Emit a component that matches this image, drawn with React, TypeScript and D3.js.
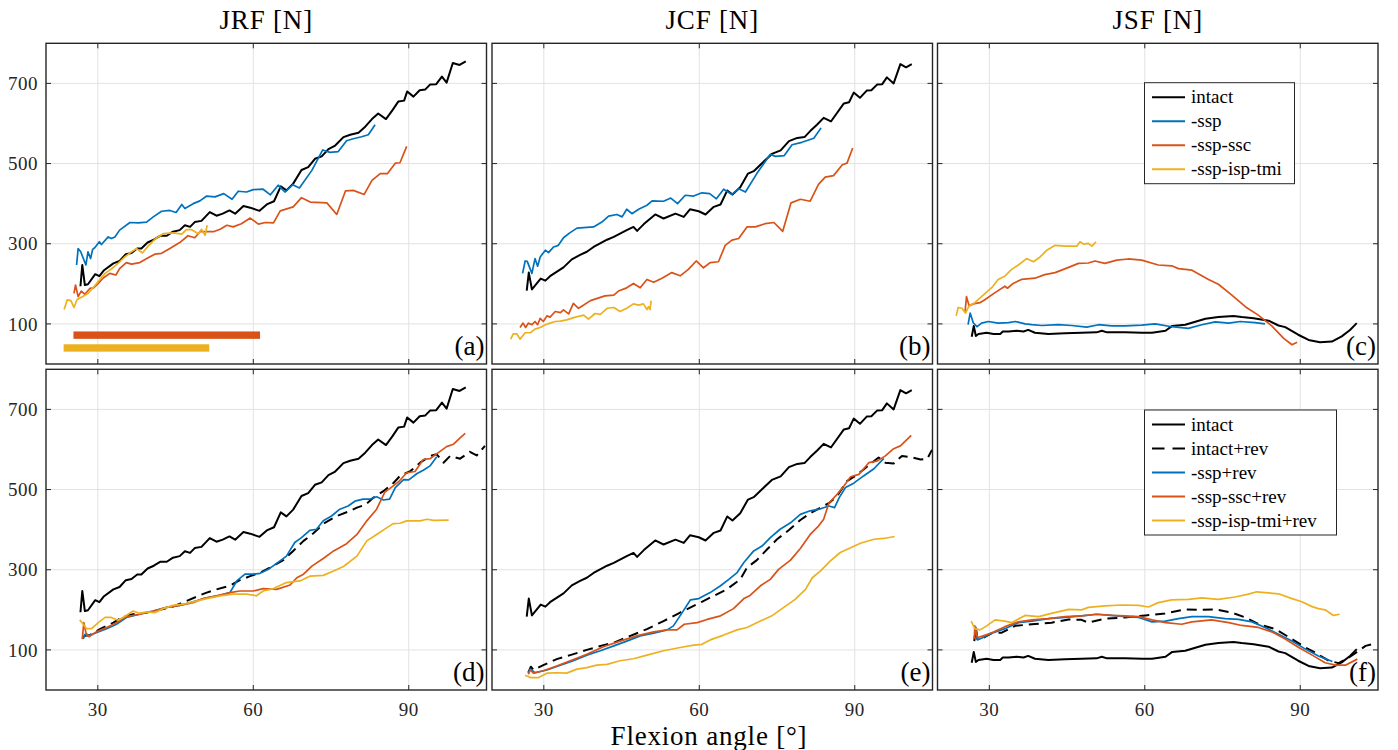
import React from 'react';
import * as d3 from 'd3';

type Pt = [number, number];

// ---- data (flexion angle [deg], force [N]) ----
const columnTitles = ['JRF [N]', 'JCF [N]', 'JSF [N]'];
const panelLabels = ['(a)', '(b)', '(c)', '(d)', '(e)', '(f)'];
const xTicks = [30, 60, 90];
const yTicks = [100, 300, 500, 700];
const legendTop = ['intact', '-ssp', '-ssp-ssc', '-ssp-isp-tmi'];
const legendBottom = ['intact', 'intact+rev', '-ssp+rev', '-ssp-ssc+rev', '-ssp-isp-tmi+rev'];

const jrfIntact: Pt[] = [[26.65,194],[27.0,247],[27.5,197],[28.1,199],[29.5,224],[30.3,219],[31.2,234],[33.0,251],[34.2,257],[35.4,274],[36.5,277],[37.6,288],[38.4,288],[39.6,303],[40.8,310],[42.1,320],[43.3,320],[44.5,330],[45.8,334],[46.8,346],[47.8,342],[48.7,354],[50.0,357],[51.6,379],[52.9,370],[54.1,375],[55.4,383],[56.5,375],[58.1,394],[59.4,390],[61.2,382],[62.6,398],[64.0,406],[65.3,443],[66.4,433],[67.7,450],[69.3,484],[70.6,491],[71.9,512],[73.2,518],[74.5,536],[75.8,545],[77.4,566],[78.7,572],[80.3,577],[81.6,592],[82.9,611],[84.1,625],[85.6,611],[86.9,634],[88.0,655],[89.1,657],[89.7,680],[90.9,667],[92.1,683],[93.2,685],[94.1,697],[95.3,698],[96.4,717],[97.3,702],[98.5,751],[99.8,746],[101.0,755]];
const jrfSsp: Pt[] = [[25.9,247],[26.2,288],[26.7,280],[27.7,247],[28.1,280],[28.6,263],[29.0,286],[29.4,290],[30.3,305],[30.7,298],[32.0,317],[32.6,313],[33.3,317],[34.2,334],[36.2,353],[37.8,352],[39.4,354],[40.7,367],[42.3,381],[43.9,383],[45.1,378],[46.2,398],[46.8,388],[48.4,400],[49.7,407],[51.0,419],[52.6,417],[54.3,425],[55.9,411],[57.1,431],[58.7,429],[60.0,435],[61.9,436],[63.3,422],[64.8,446],[66.1,429],[67.6,447],[68.9,439],[71.3,483],[73.4,534],[74.8,528],[76.4,530],[78.0,557],[79.3,562],[80.9,567],[82.2,572],[83.5,597]];
const jrfSspSsc: Pt[] = [[25.4,176],[25.7,197],[26.2,168],[26.8,182],[27.5,174],[28.5,189],[29.2,190],[30.1,201],[31.0,214],[32.3,226],[33.5,222],[34.2,238],[35.5,253],[36.5,249],[38.1,253],[39.7,265],[41.0,274],[42.3,276],[43.9,288],[45.8,303],[47.4,320],[48.7,315],[49.7,330],[52.3,330],[53.6,336],[54.9,346],[56.1,342],[57.7,350],[59.4,364],[61.0,349],[62.3,353],[63.9,352],[65.2,382],[67.7,392],[69.3,415],[71.0,404],[74.2,402],[76.1,373],[77.8,432],[79.3,433],[81.4,423],[82.9,458],[84.5,475],[85.9,475],[87.4,501],[88.3,502],[89.6,543]];
const jrfSspIspTmi: Pt[] = [[23.5,136],[24.1,160],[24.8,158],[25.4,141],[26.0,161],[27.0,168],[28.1,176],[29.4,195],[30.4,211],[31.4,226],[32.6,237],[33.9,251],[35.2,267],[36.5,280],[37.5,288],[38.6,277],[39.7,294],[41.0,311],[42.6,325],[44.6,327],[46.2,324],[47.1,335],[48.1,335],[49.4,325],[50.0,336],[50.7,321],[51.1,346]];

const jcfIntact: Pt[] = [[26.7,183],[27.1,228],[27.7,186],[29.4,213],[30.3,208],[31.2,219],[33.8,241],[35.4,261],[37.0,272],[38.3,280],[39.6,292],[42.2,310],[43.5,317],[46.0,334],[47.3,342],[48.0,332],[49.3,349],[51.5,373],[53.1,363],[55.4,375],[57.0,367],[58.2,386],[59.9,381],[61.2,373],[62.8,392],[64.1,398],[65.4,433],[66.4,423],[67.9,441],[69.4,475],[70.5,481],[72.1,501],[74.0,524],[75.7,533],[77.3,556],[78.9,564],[80.3,566],[81.4,581],[82.7,597],[84.0,614],[85.4,605],[87.9,650],[88.9,653],[89.8,677],[91.0,664],[92.3,682],[93.2,683],[94.3,697],[95.3,698],[96.2,715],[97.5,700],[98.8,748],[99.9,740],[101.0,748]];
const jcfSsp: Pt[] = [[25.9,226],[26.4,257],[26.8,256],[27.7,226],[28.3,263],[28.8,244],[29.3,267],[30.3,284],[30.9,278],[31.9,292],[32.8,296],[33.8,315],[35.0,327],[36.4,339],[39.6,342],[41.2,354],[42.5,369],[44.1,373],[45.1,367],[46.0,386],[47.0,375],[48.3,386],[49.9,396],[50.9,407],[53.1,406],[54.5,414],[55.8,400],[57.3,421],[58.9,419],[60.5,427],[62.0,425],[63.3,412],[64.7,436],[66.3,423],[67.6,437],[68.9,429],[71.1,475],[73.7,523],[74.7,518],[76.4,520],[77.9,547],[79.8,553],[82.1,563],[83.5,589]];
const jcfSspSsc: Pt[] = [[25.4,91],[26.0,102],[26.5,91],[27.0,102],[27.7,98],[28.3,106],[28.8,98],[29.3,114],[29.9,106],[30.6,120],[31.2,117],[32.2,131],[33.2,128],[33.8,135],[34.8,125],[35.7,151],[36.7,139],[37.7,147],[39.0,158],[40.6,165],[41.8,170],[43.5,172],[44.4,182],[46.0,190],[47.3,201],[48.6,190],[49.9,211],[51.2,204],[52.8,214],[54.7,228],[56.3,220],[57.9,236],[59.4,257],[60.8,240],[62.1,253],[63.7,255],[65.0,296],[66.3,309],[67.6,313],[69.2,342],[70.8,342],[72.7,350],[74.4,353],[76.1,331],[77.7,402],[79.5,411],[81.4,406],[83.0,448],[84.3,466],[85.9,470],[87.6,497],[88.5,501],[89.6,539]];
const jcfSspIspTmi: Pt[] = [[23.6,62],[24.1,75],[24.8,75],[25.4,62],[26.4,78],[27.4,78],[28.3,87],[29.3,91],[30.3,98],[31.2,102],[32.2,106],[33.2,107],[34.4,110],[36.1,117],[37.7,122],[38.6,112],[39.9,126],[40.9,124],[42.2,139],[43.5,141],[44.7,131],[46.0,139],[47.3,150],[48.3,147],[49.2,150],[49.9,136],[50.2,143],[50.5,136],[50.7,158]];

const jsfIntact: Pt[] = [[26.6,68],[27.0,95],[27.4,70],[27.9,75],[29.5,78],[30.8,75],[32.1,75],[32.6,81],[33.7,81],[35.3,83],[36.6,81],[37.5,85],[38.8,78],[41.4,75],[44.6,77],[47.8,78],[50.7,79],[51.7,83],[52.7,79],[56.2,79],[59.5,78],[61.4,78],[64.0,83],[65.3,95],[67.8,98],[69.1,103],[71.7,113],[74.2,117],[77.1,120],[78.7,117],[81.0,114],[83.9,108],[85.8,96],[87.1,92],[89.6,73],[91.6,60],[93.8,54],[96.1,56],[98.0,69],[99.6,85],[100.9,102]];
const jsfSsp: Pt[] = [[25.9,98],[26.3,127],[26.9,103],[27.6,93],[28.5,102],[29.8,106],[31.7,102],[33.7,103],[35.0,106],[36.9,100],[38.2,98],[40.1,96],[43.3,98],[45.9,96],[48.8,92],[51.1,98],[53.6,95],[56.2,95],[59.4,97],[62.0,100],[65.2,93],[68.4,89],[71.0,98],[73.6,105],[76.2,102],[78.4,106],[81.3,103],[83.2,100]];
const jsfSspSsc: Pt[] = [[25.3,128],[25.6,168],[26.1,145],[26.9,150],[28.2,153],[29.2,161],[31.1,178],[33.0,194],[33.5,189],[34.6,201],[36.2,211],[38.8,214],[40.7,223],[42.7,228],[45.3,241],[47.2,251],[49.1,252],[50.4,257],[52.3,251],[54.6,259],[56.8,262],[59.4,259],[62.6,247],[65.2,245],[66.5,238],[69.1,234],[72.3,211],[74.2,199],[76.8,172],[79.4,143],[81.9,122],[84.5,95],[86.8,64],[88.4,48],[89.4,54]];
const jsfSspIspTmi: Pt[] = [[23.6,120],[24.0,141],[24.7,139],[25.4,127],[26.1,145],[27.2,153],[28.5,168],[30.5,191],[31.7,211],[33.0,219],[34.3,236],[35.6,247],[37.2,263],[38.5,255],[39.8,267],[41.1,284],[42.7,296],[44.6,294],[46.9,294],[47.5,305],[48.2,299],[49.1,301],[49.8,294],[50.6,305]];

const jrfIntactRev: Pt[] = [[27.0,131],[27.5,135],[28.5,137],[30.4,152],[33.0,168],[34.9,183],[36.8,189],[39.4,193],[42.0,200],[44.5,208],[47.1,222],[49.1,233],[51.0,243],[52.9,251],[55.5,260],[57.4,274],[59.4,284],[61.3,293],[63.2,305],[65.8,324],[67.7,347],[69.7,372],[71.6,391],[73.8,417],[76.1,434],[78.7,447],[80.0,455],[81.6,462],[83.2,480],[85.1,496],[87.1,517],[88.3,534],[90.3,546],[92.2,567],[94.2,584],[95.4,588],[96.7,567],[98.0,584],[99.9,577],[101.8,594],[103.1,585],[104.7,609]];
const jrfSspRev: Pt[] = [[27.2,127],[27.5,139],[28.1,135],[29.7,143],[31.7,153],[33.6,164],[35.5,181],[38.1,189],[40.7,197],[43.3,206],[45.8,211],[48.4,220],[51.0,230],[53.6,236],[55.5,243],[56.8,272],[58.4,289],[60.0,289],[61.3,291],[62.9,301],[64.5,316],[66.4,334],[68.0,368],[69.3,380],[70.9,398],[72.2,401],[73.5,422],[75.1,434],[76.7,451],[78.3,459],[79.6,471],[81.2,476],[82.5,476],[83.8,482],[85.1,474],[86.3,476],[87.4,505],[89.0,525],[90.0,524],[91.6,540],[92.8,548],[94.1,559],[95.4,582]];
const jrfSspSscRev: Pt[] = [[27.0,127],[27.3,168],[27.7,143],[28.3,133],[29.7,145],[31.7,156],[33.6,168],[35.5,183],[38.1,189],[40.7,197],[43.3,206],[45.8,211],[48.4,218],[50.3,228],[52.9,235],[55.5,243],[57.4,247],[60.0,247],[61.9,253],[64.5,251],[67.1,262],[68.4,280],[69.7,289],[71.3,309],[73.5,328],[75.5,347],[78.0,365],[80.0,388],[81.9,422],[83.8,451],[85.4,494],[86.7,506],[88.0,519],[89.6,542],[91.2,545],[92.8,575],[94.1,577],[95.7,592],[97.3,607],[98.6,613],[99.9,629],[100.9,640]];
const jrfSspIspTmiRev: Pt[] = [[26.5,175],[27.2,164],[27.8,153],[28.8,153],[30.1,168],[31.4,181],[32.6,181],[33.9,174],[35.5,186],[36.8,197],[38.1,191],[39.4,195],[41.0,193],[42.6,203],[44.5,211],[46.5,214],[48.4,220],[51.0,228],[53.6,235],[56.1,239],[58.7,239],[60.6,235],[61.9,247],[63.9,253],[66.4,268],[69.0,272],[70.9,284],[73.5,286],[75.5,297],[77.4,308],[80.0,334],[81.9,372],[83.8,388],[85.8,405],[87.0,415],[88.3,416],[89.6,422],[92.2,422],[93.5,426],[94.8,423],[97.7,424]];

const jcfIntactRev: Pt[] = [[27.0,43],[27.5,58],[28.0,50],[29.9,62],[32.5,77],[35.1,87],[38.3,100],[41.5,112],[43.5,118],[46.7,135],[49.9,152],[53.1,172],[56.3,193],[58.9,210],[60.5,220],[62.8,235],[65.3,251],[67.9,276],[69.2,305],[71.1,324],[73.1,351],[75.0,376],[77.3,399],[79.5,424],[81.4,441],[83.4,455],[85.0,466],[86.6,484],[88.5,521],[90.1,534],[91.7,550],[93.3,567],[94.6,580],[95.9,567],[97.5,565],[99.1,584],[100.8,581],[102.7,575],[104.0,577],[104.9,599]];
const jcfSspRev: Pt[] = [[27.0,43],[27.4,52],[28.3,43],[30.6,50],[33.2,62],[35.7,73],[38.3,87],[40.9,98],[43.5,110],[46.0,122],[48.6,135],[51.2,142],[53.8,150],[55.0,160],[56.7,193],[58.3,225],[59.9,228],[62.1,243],[64.1,260],[65.7,276],[67.3,293],[68.6,318],[70.5,347],[72.1,359],[73.7,380],[75.6,401],[77.6,417],[79.5,438],[81.4,447],[83.4,452],[85.0,459],[86.1,455],[87.0,480],[88.2,505],[89.8,516],[91.7,534],[93.7,552],[95.6,578]];
const jcfSspSscRev: Pt[] = [[27.0,39],[27.4,50],[28.0,42],[29.9,48],[32.5,60],[35.1,73],[38.3,89],[41.5,108],[44.7,122],[47.9,135],[51.2,145],[53.8,150],[55.7,150],[57.1,164],[59.6,168],[61.5,176],[64.1,185],[66.6,203],[68.6,228],[69.8,236],[71.8,260],[73.7,276],[75.3,301],[77.6,324],[79.5,353],[81.4,388],[83.0,409],[84.0,426],[85.0,466],[86.6,488],[87.9,509],[89.2,532],[90.8,538],[92.7,567],[94.3,571],[95.9,584],[97.5,602],[98.8,609],[100.9,635]];
const jcfSspIspTmiRev: Pt[] = [[26.4,37],[27.4,31],[29.0,31],[30.6,42],[32.5,43],[34.4,42],[36.4,52],[38.3,56],[40.2,62],[42.2,64],[44.7,73],[47.3,78],[49.9,87],[53.1,98],[56.3,106],[58.9,112],[60.5,114],[62.1,125],[64.7,137],[67.3,150],[69.2,156],[71.8,172],[74.0,185],[76.3,206],[78.5,226],[80.5,251],[81.8,280],[83.4,297],[85.3,322],[87.2,343],[89.2,355],[91.1,366],[93.7,376],[95.6,378],[97.7,383]];

const jsfIntactRev: Pt[] = [[27.1,122],[27.4,156],[27.7,127],[28.5,128],[30.5,142],[32.4,143],[35.0,160],[38.2,164],[42.0,168],[45.3,176],[47.8,175],[49.1,168],[52.3,178],[56.2,181],[60.1,186],[63.9,191],[67.8,201],[70.4,200],[73.6,201],[76.8,193],[79.4,181],[82.0,164],[85.2,152],[88.4,127],[91.0,106],[92.9,93],[95.5,73],[97.4,67],[99.4,81],[101.3,98],[102.6,110],[103.8,114]];
const jsfSspRev: Pt[] = [[27.1,127],[27.4,156],[27.7,125],[28.8,131],[30.5,142],[33.0,153],[35.6,168],[38.2,172],[41.4,178],[44.6,181],[47.8,185],[50.7,189],[53.6,186],[56.2,183],[58.8,181],[61.4,170],[64.0,172],[66.5,178],[69.1,183],[72.3,183],[75.5,178],[78.1,176],[80.7,170],[83.2,156],[85.8,139],[88.4,122],[91.0,102],[93.5,85],[96.2,71]];
const jsfSspSscRev: Pt[] = [[27.1,127],[27.2,160],[27.7,131],[28.8,135],[30.5,143],[33.0,158],[35.6,170],[38.2,175],[41.4,178],[44.6,183],[47.8,185],[50.7,189],[53.6,186],[56.2,185],[58.8,183],[61.4,175],[64.0,168],[67.1,164],[69.1,170],[72.9,175],[76.2,168],[78.7,161],[81.9,156],[84.5,145],[87.1,127],[89.7,106],[92.3,87],[94.8,68],[96.8,62],[98.7,62],[101.0,77]];
const jsfSspIspTmiRev: Pt[] = [[26.5,172],[27.2,153],[28.2,150],[29.5,160],[31.1,175],[33.0,172],[34.3,168],[36.9,186],[39.5,183],[42.0,191],[45.3,201],[47.8,200],[49.1,206],[52.3,210],[55.6,212],[58.8,211],[60.7,207],[62.6,218],[65.2,225],[68.4,226],[71.0,230],[74.2,226],[77.4,232],[80.0,239],[81.6,245],[83.2,243],[85.8,240],[88.4,228],[90.3,220],[92.3,208],[93.5,203],[94.8,200],[96.4,186],[97.6,189]];

// horizontal range bars in panel (a): [start angle, end angle, force level]
const sscBar = [25.3, 61.3, 72];
const tmiBar = [23.4, 51.5, 40];

// ---- styling ----
const BLACK = '#000000';
const BLUE = '#0072BD';
const ORANGE = '#D95319';
const YELLOW = '#EDB120';
const FONT = '"Liberation Serif", "Times New Roman", serif';

const colLeft = [46, 492, 937.5];
const rowTop = [43.3, 369.3];
const PW = 440.5;
const PH = 320.7;

type Series = { data: Pt[]; color: string; dashed?: boolean; width?: number };

const panels: { series: Series[]; legend?: string[] }[] = [
  { series: [
    { data: jrfIntact, color: BLACK, width: 2 },
    { data: jrfSsp, color: BLUE },
    { data: jrfSspSsc, color: ORANGE },
    { data: jrfSspIspTmi, color: YELLOW },
  ] },
  { series: [
    { data: jcfIntact, color: BLACK, width: 2 },
    { data: jcfSsp, color: BLUE },
    { data: jcfSspSsc, color: ORANGE },
    { data: jcfSspIspTmi, color: YELLOW },
  ] },
  { series: [
    { data: jsfIntact, color: BLACK, width: 2 },
    { data: jsfSsp, color: BLUE },
    { data: jsfSspSsc, color: ORANGE },
    { data: jsfSspIspTmi, color: YELLOW },
  ], legend: legendTop },
  { series: [
    { data: jrfIntact, color: BLACK, width: 2 },
    { data: jrfIntactRev, color: BLACK, dashed: true, width: 2 },
    { data: jrfSspRev, color: BLUE },
    { data: jrfSspSscRev, color: ORANGE },
    { data: jrfSspIspTmiRev, color: YELLOW },
  ] },
  { series: [
    { data: jcfIntact, color: BLACK, width: 2 },
    { data: jcfIntactRev, color: BLACK, dashed: true, width: 2 },
    { data: jcfSspRev, color: BLUE },
    { data: jcfSspSscRev, color: ORANGE },
    { data: jcfSspIspTmiRev, color: YELLOW },
  ] },
  { series: [
    { data: jsfIntact, color: BLACK, width: 2 },
    { data: jsfIntactRev, color: BLACK, dashed: true, width: 2 },
    { data: jsfSspRev, color: BLUE },
    { data: jsfSspSscRev, color: ORANGE },
    { data: jsfSspIspTmiRev, color: YELLOW },
  ], legend: legendBottom },
];

const legendStyles = [
  { color: BLACK }, { color: BLACK, dashed: true }, { color: BLUE }, { color: ORANGE }, { color: YELLOW },
];
const legendStylesTop = [{ color: BLACK }, { color: BLUE }, { color: ORANGE }, { color: YELLOW }];

const Panel = ({ idx }: { idx: number }) => {
  const col = idx % 3;
  const row = Math.floor(idx / 3);
  const x0 = colLeft[col];
  const y0 = rowTop[row];
  const x = d3.scaleLinear().domain([20, 105]).range([0, PW]);
  const y = d3.scaleLinear().domain([0, 800]).range([PH, 0]);
  const line = d3.line<Pt>().x(d => x(d[0])).y(d => y(d[1]));
  const p = panels[idx];
  const clipId = `clip-${idx}`;
  const tick = 5;

  const legendRows = p.legend ?? [];
  const lStyles = legendRows.length === 4 ? legendStylesTop : legendStyles;
  const legW = legendRows.length === 4 ? 150 : 192;
  const legH = legendRows.length * 24 + 5;

  return (
    <g transform={`translate(${x0},${y0})`}>
      <defs>
        <clipPath id={clipId}><rect x={0} y={0} width={PW} height={PH} /></clipPath>
      </defs>
      <rect x={0} y={0} width={PW} height={PH} fill="#fff" />
      {/* grid */}
      {xTicks.map(t => (
        <line key={'gx' + t} x1={x(t)} x2={x(t)} y1={0} y2={PH} stroke="#e2e2e2" strokeWidth={1} />
      ))}
      {yTicks.map(t => (
        <line key={'gy' + t} x1={0} x2={PW} y1={y(t)} y2={y(t)} stroke="#e2e2e2" strokeWidth={1} />
      ))}
      {/* bars in (a) */}
      {idx === 0 && [
        { b: sscBar, c: ORANGE },
        { b: tmiBar, c: YELLOW },
      ].map((o, i) => (
        <rect key={'bar' + i} x={x(o.b[0])} width={x(o.b[1]) - x(o.b[0])} y={y(o.b[2]) - 3.7} height={7.4} fill={o.c} />
      ))}
      {/* curves */}
      <g clipPath={`url(#${clipId})`}>
        {p.series.map((s, i) => (
          <path key={i} d={line(s.data) ?? ''} fill="none" stroke={s.color}
            strokeWidth={s.width ?? 1.7} strokeDasharray={s.dashed ? '10,6' : undefined}
            strokeLinejoin="round" />
        ))}
      </g>
      {/* ticks inside, all four sides */}
      {xTicks.map(t => (
        <g key={'tx' + t} stroke="#262626" strokeWidth={1}>
          <line x1={x(t)} x2={x(t)} y1={PH} y2={PH - tick} />
          <line x1={x(t)} x2={x(t)} y1={0} y2={tick} />
        </g>
      ))}
      {yTicks.map(t => (
        <g key={'ty' + t} stroke="#262626" strokeWidth={1}>
          <line x1={0} x2={tick} y1={y(t)} y2={y(t)} />
          <line x1={PW} x2={PW - tick} y1={y(t)} y2={y(t)} />
        </g>
      ))}
      <rect x={0} y={0} width={PW} height={PH} fill="none" stroke="#262626" strokeWidth={1.4} />
      {/* tick labels */}
      {col === 0 && yTicks.map(t => (
        <text key={'ly' + t} x={-8} y={y(t)} dy="0.35em" textAnchor="end" fontFamily={FONT} fontSize={19} letterSpacing={0.5} fill="#262626">{t}</text>
      ))}
      {row === 1 && xTicks.map(t => (
        <text key={'lx' + t} x={x(t)} y={PH + 26} textAnchor="middle" fontFamily={FONT} fontSize={19} letterSpacing={0.5} fill="#262626">{t}</text>
      ))}
      {/* panel label */}
      <text x={PW - 2} y={PH - 9} textAnchor="end" fontFamily={FONT} fontSize={27} fill="#000">{panelLabels[idx]}</text>
      {/* legend */}
      {legendRows.length > 0 && (
        <g transform={`translate(${207},${row === 0 ? 39.4 : 40.7})`}>
          <rect x={0} y={0} width={legW} height={legH} fill="#fff" stroke="#262626" strokeWidth={1} />
          {legendRows.map((name, i) => (
            <g key={name} transform={`translate(0,${14.5 + i * 24})`}>
              <line x1={7.5} x2={40.5} y1={0} y2={0} stroke={lStyles[i].color} strokeWidth={2}
                strokeDasharray={(lStyles[i] as any).dashed ? '12.5,8' : undefined} />
              <text x={46.5} y={0} dy="0.33em" fontFamily={FONT} fontSize={19} fill="#000">{name}</text>
            </g>
          ))}
        </g>
      )}
    </g>
  );
};

export default function App() {
  return (
    <svg width={1398} height={750} style={{ position: 'absolute', left: 0, top: 0, background: '#fff' }}>
      <rect x={0} y={0} width={1398} height={750} fill="#fff" />
      {columnTitles.map((t, i) => (
        <text key={t} x={colLeft[i] + PW / 2} y={29} textAnchor="middle" fontFamily={FONT} fontSize={27} letterSpacing={0.8} fill="#000">{t}</text>
      ))}
      {[0, 1, 2, 3, 4, 5].map(i => <Panel key={i} idx={i} />)}
      <text x={709} y={745} textAnchor="middle" fontFamily={FONT} fontSize={27} letterSpacing={0.8} fill="#000">Flexion angle [°]</text>
    </svg>
  );
}
